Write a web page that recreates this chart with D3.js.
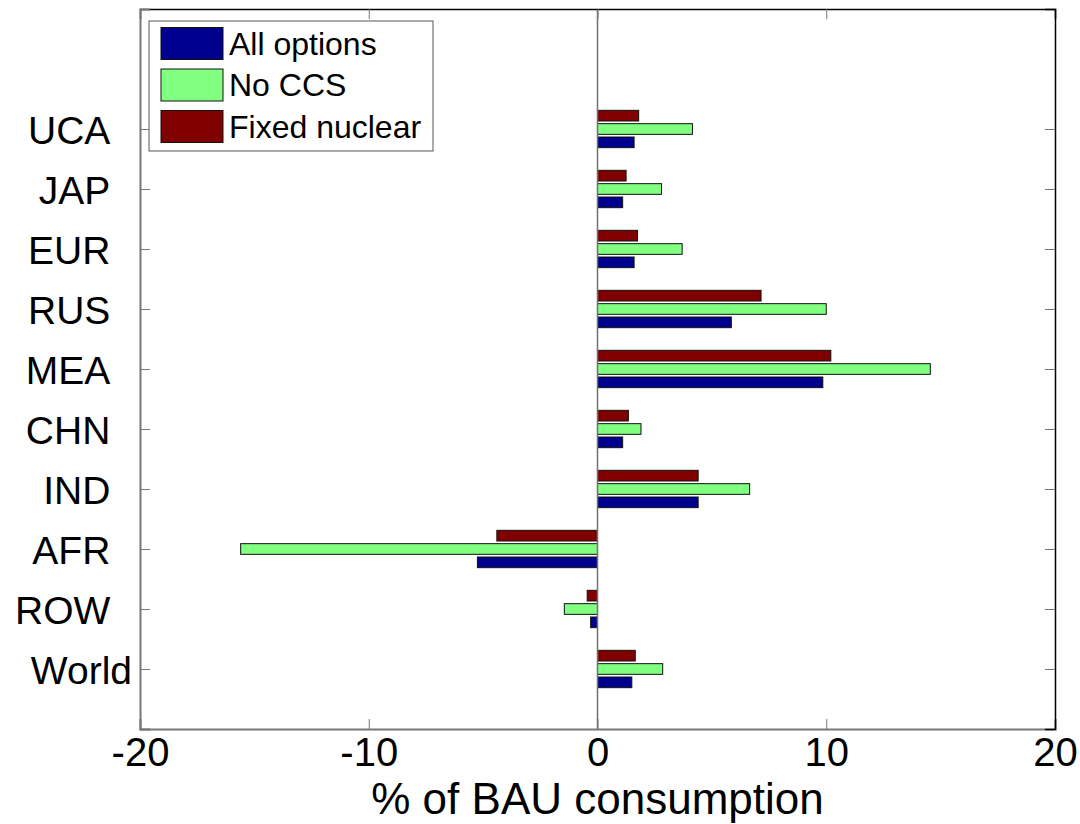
<!DOCTYPE html>
<html lang="en">
<head>
    <meta charset="UTF-8">
    <script type="text/javascript" src="https://d3js.org/d3.v7.min.js"></script>
    <title>BAU consumption</title>
    <style>
        body { margin: 0; background: #fff; }
        text { font-family: "Liberation Sans", Arial, sans-serif; }
    </style>
</head>
<body>
    <svg id="svg"></svg>
    <script>
        const width = 1080;
        const height = 824;
        const margin = {"top": 9, "bottom": 95, "left": 140, "right": 25};

        // data, top to bottom
        const regions = ["UCA", "JAP", "EUR", "RUS", "MEA", "CHN", "IND", "AFR", "ROW", "World"];
        const allOptions   = [1.6, 1.1, 1.6, 5.85, 9.85, 1.1, 4.4, -5.25, -0.3, 1.5];
        const noCCS        = [4.15, 2.8, 3.7, 10.0, 14.55, 1.9, 6.65, -15.6, -1.45, 2.85];
        const fixedNuclear = [1.8, 1.25, 1.75, 7.15, 10.2, 1.35, 4.4, -4.4, -0.45, 1.65];
        const seriesNames  = ["All options", "No CCS", "Fixed nuclear"];
        const seriesColors = ["#00008f", "#80ff80", "#800000"];
        const xTicks = [-20, -10, 0, 10, 20];

        const series = [allOptions, noCCS, fixedNuclear];
        const n = regions.length;
        const pos = i => n - i;   // World at 1, UCA at 10

        const xscale = d3.scaleLinear().domain([-20, 20])
                         .range([margin.left, width - margin.right]);
        const yscale = d3.scaleLinear().domain([0, 12])
                         .range([height - margin.bottom, margin.top]);

        const svg = d3.select("#svg").attr("width", width).attr("height", height);

        // matlab style grouped barh: 3 bars of 0.222 units, face 80%
        const slot = 2 / 3 / 3;
        const barH = Math.abs(yscale(0) - yscale(slot * 0.8));
        series.forEach((vals, s) => {
            svg.append("g").selectAll("rect").data(vals).join("rect")
                .attr("x", d => xscale(Math.min(0, d)))
                .attr("width", d => Math.abs(xscale(d) - xscale(0)))
                .attr("y", (d, i) => yscale(pos(i) + (s - 1) * slot) - barH / 2)
                .attr("height", barH)
                .attr("fill", seriesColors[s])
                .attr("stroke", "#111")
                .attr("stroke-width", 1);
        });

        // baseline at zero
        svg.append("line")
            .attr("x1", xscale(0)).attr("x2", xscale(0))
            .attr("y1", yscale(0)).attr("y2", yscale(12))
            .attr("stroke", "#707070").attr("stroke-width", 1.5);

        // axes with inward ticks
        const xaxis = d3.axisBottom(xscale).tickValues(xTicks).tickSize(-10).tickPadding(9).tickFormat(d => String(d));
        svg.append("g").attr("transform", `translate(0,${yscale(0)})`)
            .call(xaxis)
            .call(g => g.select(".domain").attr("stroke", "#777").attr("stroke-width", 2))
            .call(g => g.selectAll(".tick line").attr("stroke", "#777"))
            .call(g => g.selectAll("text").attr("font-size", 40).attr("fill", "#000")
                        .attr("font-family", "Liberation Sans, Arial, sans-serif"));

        svg.append("g").attr("transform", `translate(0,${yscale(12)})`)
            .call(d3.axisTop(xscale).tickValues(xTicks).tickSize(-10).tickFormat(""))
            .call(g => g.select(".domain").attr("stroke", "#000").attr("stroke-width", 1.5))
            .call(g => g.selectAll(".tick line").attr("stroke", "#777"));

        // labels padded like a matlab char matrix
        const yvals = regions.map((r, i) => pos(i));
        const yaxis = d3.axisLeft(yscale).tickValues(yvals).tickSize(-10).tickPadding(8)
                        .tickFormat(v => regions[n - v] + "\u00a0".repeat(5 - regions[n - v].length));
        svg.append("g").attr("transform", `translate(${margin.left},0)`)
            .call(yaxis)
            .call(g => g.select(".domain").attr("stroke", "#777").attr("stroke-width", 2))
            .call(g => g.selectAll(".tick line").attr("stroke", "#777"))
            .call(g => g.selectAll("text").attr("font-size", 39).attr("fill", "#000")
                        .attr("dy", "0.36em")
                        .attr("font-family", "Liberation Sans, Arial, sans-serif"));

        svg.append("g").attr("transform", `translate(${width - margin.right},0)`)
            .call(d3.axisRight(yscale).tickValues(yvals).tickSize(-10).tickFormat(""))
            .call(g => g.select(".domain").attr("stroke", "#000").attr("stroke-width", 1.5))
            .call(g => g.selectAll(".tick line").attr("stroke", "#777"));

        svg.append("text")
            .attr("x", xscale(0)).attr("y", 814)
            .attr("text-anchor", "middle").attr("font-size", 44)
            .text("% of BAU consumption");

        // legend
        const leg = svg.append("g").attr("transform", "translate(149,21)");
        leg.append("rect").attr("width", 284).attr("height", 130)
            .attr("fill", "#fff").attr("stroke", "#555").attr("stroke-width", 1);
        seriesNames.forEach((name, s) => {
            const cy = 22.5 + s * 41.5;
            leg.append("rect").attr("x", 12).attr("y", cy - 16)
                .attr("width", 62).attr("height", 32)
                .attr("fill", seriesColors[s]).attr("stroke", "#111");
            leg.append("text").attr("x", 80).attr("y", cy + 11)
                .attr("font-size", 32).text(name);
        });
    </script>
</body>
</html>
